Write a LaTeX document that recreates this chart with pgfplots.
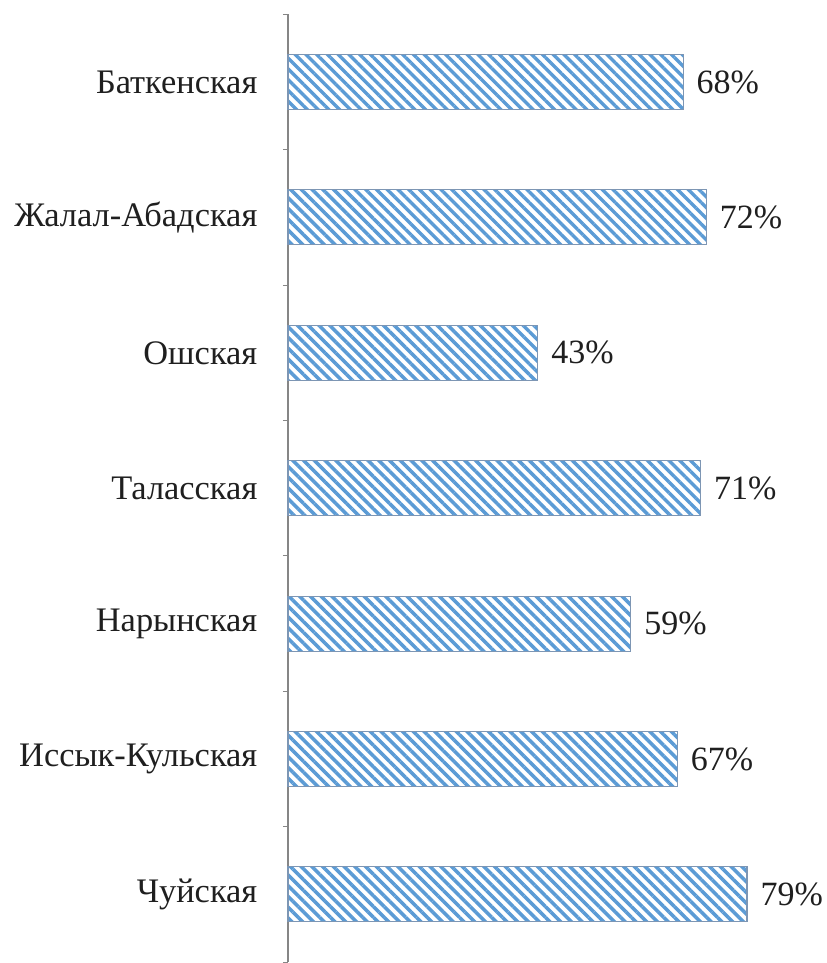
\documentclass[border=0pt]{standalone}
\usepackage{fontspec}
\setmainfont{Liberation Serif}
\usepackage{pgfplots}
\pgfplotsset{compat=1.18}
\usetikzlibrary{patterns.meta}
\definecolor{barblue}{RGB}{91,155,213}
\definecolor{bordergray}{RGB}{125,150,180}
\definecolor{axgray}{RGB}{134,134,134}
\begin{document}
\begin{tikzpicture}
\useasboundingbox (-216pt,-51.45pt) rectangle (404.25pt,670.8pt);
\begin{axis}[
  anchor=origin, at={(0pt,0pt)},
  xbar, x=4.3575pt, y=101.55pt,
  xmin=0, xmax=85, ymin=-0.5, ymax=6.5,
  axis x line=none, axis y line*=left,
  axis line style={axgray, line width=0.8pt, -},
  ytick={0,...,6},
  yticklabels={Чуйская, Иссык-Кульская, Нарынская, Таласская, Ошская, Жалал-Абадская, Баткенская},
  minor ytick={-0.5,0.5,...,6.5},
  major tick length=0pt, minor tick length=3.75pt, tick align=outside,
  minor tick style={axgray, line width=0.8pt},
  yticklabel style={font=\fontsize{25.8}{30}\selectfont, xshift=-19.5pt, text=black!88},
  bar width=0.406, bar shift=0pt,
  nodes near coords={\pgfmathprintnumber{\pgfplotspointmeta}\%},
  nodes near coords style={font=\fontsize{25.5}{30}\selectfont, anchor=west, xshift=6.5pt, text=black!88},
  /pgf/number format/assume math mode=true,
  clip=false,
]
\addplot[draw=bordergray, line width=0.8pt,
  pattern={Lines[angle=-45,distance=5.7pt,line width=2.6pt]}, pattern color=barblue]
  coordinates {(79,0) (67,1) (59,2) (71,3) (43,4) (72,5) (68,6)};
\end{axis}
\end{tikzpicture}
\end{document}
